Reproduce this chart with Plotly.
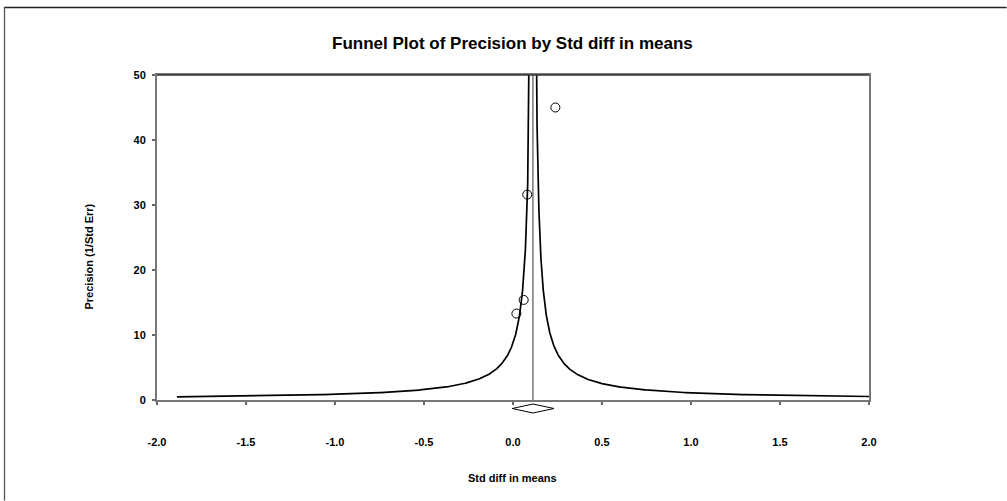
import numpy as np
import plotly.graph_objects as go

# ---- data ----
study_effect = [0.019, 0.060, 0.080, 0.238]      # Std diff in means
study_precision = [13.3, 15.4, 31.6, 45.0]       # 1 / Std Err
pooled_effect = 0.112
pooled_ci_low = -0.004
pooled_ci_high = 0.230
funnel_z = 0.98
funnel_precision_min = 0.49
funnel_precision_max = 80.0

x_tick_values = [-2.0, -1.5, -1.0, -0.5, 0.0, 0.5, 1.0, 1.5, 2.0]
x_tick_labels = ["-2.0", "-1.5", "-1.0", "-0.5", "0.0", "0.5", "1.0", "1.5", "2.0"]
y_tick_values = [0, 10, 20, 30, 40, 50]
y_tick_labels = ["0", "10", "20", "30", "40", "50"]

# ---- layout geometry ----
W, H = 1007, 501
ML, MR, MT, MB = 157, 138, 75, 101
PW, PH = W - ML - MR, H - MT - MB
Y_MAX = 50.0
FONT = "Arial, Liberation Sans, sans-serif"


def px_x(px):
    return (px - ML) / PW


def px_y(py):
    return (H - MB - py) / PH


# funnel boundary lines (pooled estimate +/- z / precision)
prec_grid = np.geomspace(funnel_precision_min, funnel_precision_max, 600)
left_x = pooled_effect - funnel_z / prec_grid
right_x = pooled_effect + funnel_z / prec_grid

fig = go.Figure()

fig.add_trace(go.Scatter(x=left_x, y=prec_grid, mode="lines",
                         line=dict(color="black", width=1.7),
                         hoverinfo="skip", showlegend=False))
fig.add_trace(go.Scatter(x=right_x, y=prec_grid, mode="lines",
                         line=dict(color="black", width=1.7),
                         hoverinfo="skip", showlegend=False))
fig.add_trace(go.Scatter(x=[pooled_effect, pooled_effect], y=[0, Y_MAX], mode="lines",
                         line=dict(color="#333333", width=1),
                         hoverinfo="skip", showlegend=False))
fig.add_trace(go.Scatter(x=study_effect, y=study_precision, mode="markers",
                         marker=dict(symbol="circle-open", size=9,
                                     color="black", line=dict(width=1)),
                         showlegend=False))

# pooled diamond below the axis (x in data units, y in paper units)
d_mid = px_y(408.5)
d_half = 4.5 / PH
diamond_path = (f"M {pooled_ci_low},{d_mid} L {pooled_effect},{d_mid + d_half} "
                f"L {pooled_ci_high},{d_mid} L {pooled_effect},{d_mid - d_half} Z")

shapes = [
    dict(type="path", xref="x", yref="paper", path=diamond_path,
         line=dict(color="black", width=1), fillcolor="white"),
    # darker top edge of the plot frame
    dict(type="line", xref="paper", yref="paper",
         x0=0, x1=1, y0=1, y1=1,
         line=dict(color="#333333", width=1.6)),
    # outer frame (top and left edges)
    dict(type="line", xref="paper", yref="paper",
         x0=px_x(4), x1=px_x(W - 0.5), y0=px_y(7.5), y1=px_y(7.5),
         line=dict(color="#222222", width=1.5)),
    dict(type="line", xref="paper", yref="paper",
         x0=px_x(4.5), x1=px_x(4.5), y0=px_y(7), y1=px_y(H - 0.5),
         line=dict(color="#555555", width=1.3)),
]

annotations = [
    dict(text="<b>Funnel Plot of Precision by Std diff in means</b>",
         xref="paper", yref="paper", x=px_x(512.5), y=px_y(43),
         xanchor="center", yanchor="middle", showarrow=False,
         font=dict(family=FONT, size=17, color="black")),
    dict(text="<b>Precision (1/Std Err)</b>",
         xref="paper", yref="paper", x=px_x(88), y=px_y(256.5),
         xanchor="center", yanchor="middle", textangle=-90, showarrow=False,
         font=dict(family=FONT, size=11, color="black")),
    dict(text="<b>Std diff in means</b>",
         xref="paper", yref="paper", x=px_x(512.5), y=px_y(478),
         xanchor="center", yanchor="middle", showarrow=False,
         font=dict(family=FONT, size=11, color="black")),
]

fig.update_layout(
    width=W, height=H,
    margin=dict(l=ML, r=MR, t=MT, b=MB, pad=0),
    paper_bgcolor="white", plot_bgcolor="white",
    showlegend=False,
    shapes=shapes,
    annotations=annotations,
    xaxis=dict(range=[-2.0, 2.0], tickmode="array",
               tickvals=x_tick_values, ticktext=x_tick_labels,
               ticks="outside", ticklen=3, tickcolor="#666666", tickwidth=1.5,
               showline=True, linecolor="#777777", linewidth=2, mirror=True,
               showgrid=False, zeroline=False, ticklabelstandoff=28,
               tickfont=dict(family=FONT, size=11, color="black", weight="bold")),
    yaxis=dict(range=[0, Y_MAX], tickmode="array",
               tickvals=y_tick_values, ticktext=y_tick_labels,
               ticks="outside", ticklen=3, tickcolor="#666666", tickwidth=1.5,
               showline=True, linecolor="#777777", linewidth=2, mirror=True,
               showgrid=False, zeroline=False, ticklabelstandoff=4,
               tickfont=dict(family=FONT, size=11, color="black", weight="bold")),
)

fig.write_html("out.html",
               config={"displayModeBar": False},
               post_script="document.body.style.margin='0';"
                           "document.body.style.overflow='hidden';")
